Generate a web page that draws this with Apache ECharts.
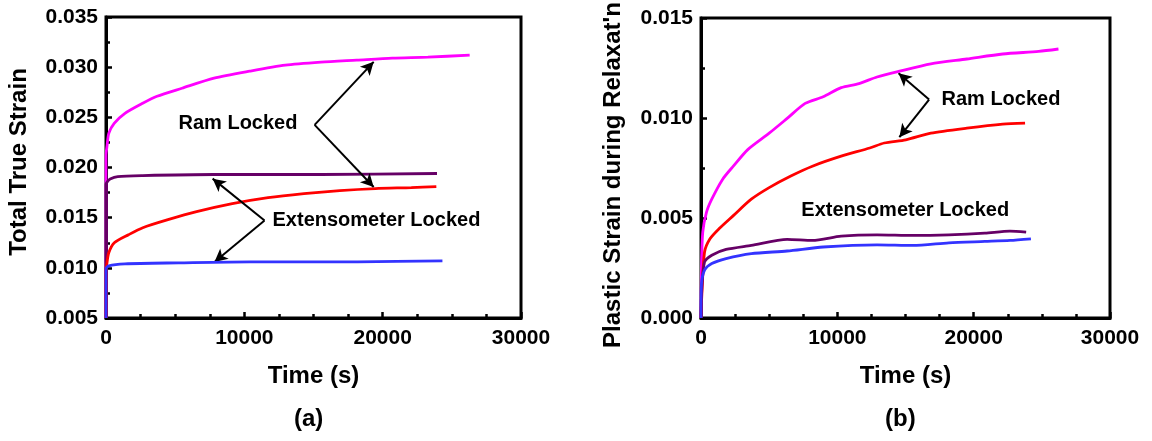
<!DOCTYPE html>
<html>
<head>
<meta charset="utf-8">
<script src="https://cdn.jsdelivr.net/npm/echarts@6/dist/echarts.min.js"></script>
<style>
html,body{margin:0;padding:0;background:#fff;}
#chart{width:1152px;height:441px;}
</style>
</head>
<body>
<div id="chart"></div>
<script>
// ---------- Panel (a): Total True Strain ----------
const magentaL_t = [0, 0, 80, 200, 590, 1370, 2650, 3690, 5490, 7810, 10390, 12960, 15540, 18120, 20700, 23270, 26290];
const magentaL_v = [0.005, 0.0212, 0.0222, 0.0234, 0.0244, 0.0254, 0.0264, 0.0271, 0.0279, 0.0289, 0.0296, 0.0302, 0.0305, 0.0307, 0.0309, 0.0310, 0.0312];
const purpleL_t = [0, 0, 100, 300, 850, 2660, 7810, 15540, 23930];
const purpleL_v = [0.005, 0.0183, 0.0186, 0.01886, 0.0191, 0.0192, 0.0193, 0.0193, 0.0194];
const redL_t = [0, 0, 60, 200, 600, 1630, 2660, 4480, 6550, 9130, 11720, 14310, 16900, 19480, 22070, 23880];
const redL_v = [0.005, 0.0097, 0.0104, 0.0115, 0.0125, 0.0133, 0.0140, 0.0148, 0.0156, 0.0164, 0.0170, 0.0174, 0.0177, 0.0179, 0.0180, 0.0181];
const blueL_t = [0, 0, 200, 1370, 5250, 10430, 18190, 24320];
const blueL_v = [0.005, 0.0099, 0.0102, 0.0104, 0.0105, 0.0106, 0.0106, 0.0107];

// ---------- Panel (b): Plastic Strain during Relaxation ----------
const magentaR_t = [0, 30, 130, 400, 790, 1580, 2370, 3430, 5000, 6320, 7640, 8960, 10280, 11590, 12910, 14490, 16860, 19500, 22130, 24770, 26220];
const magentaR_v = [0, 0.0025, 0.00429, 0.00528, 0.00594, 0.00693, 0.00759, 0.00842, 0.00924, 0.00998, 0.01073, 0.01106, 0.01152, 0.01172, 0.01205, 0.01233, 0.01271, 0.01295, 0.0132, 0.01333, 0.01345];
const redR_t = [0, 50, 260, 660, 1320, 2370, 3690, 5000, 6590, 8170, 10280, 12380, 13440, 15020, 16860, 19500, 22130, 23770];
const redR_v = [0, 0.001, 0.0033, 0.00396, 0.00446, 0.00512, 0.00594, 0.00652, 0.0071, 0.00759, 0.00809, 0.0085, 0.00875, 0.00891, 0.00924, 0.00949, 0.00969, 0.00974];
const purpleR_t = [0, 50, 260, 790, 1840, 3690, 6320, 8170, 10280, 12910, 15550, 18180, 20820, 22660, 23850];
const purpleR_v = [0, 0.00132, 0.0028, 0.00314, 0.00343, 0.00363, 0.00393, 0.00388, 0.00409, 0.00416, 0.00413, 0.00416, 0.00424, 0.00434, 0.00429];
const blueR_t = [0, 30, 260, 790, 1840, 3690, 6320, 8960, 12910, 15550, 18180, 20820, 22660, 24200];
const blueR_v = [0, 0.00165, 0.00239, 0.00272, 0.00297, 0.00322, 0.00335, 0.00355, 0.00366, 0.00363, 0.00376, 0.00383, 0.00388, 0.00396];

// ---------- Annotations ----------
const annotTextL = ['Ram Locked', 'Extensometer Locked'];
const annotPosL = [[9540, 0.0244], [19550, 0.01472]];
const arrowsL = [
  [[15080, 0.02425], [19350, 0.03053]],
  [[15080, 0.02425], [19350, 0.01806]],
  [[11460, 0.01472], [7710, 0.01889]],
  [[11460, 0.01472], [7840, 0.01059]]
];
const annotTextR = ['Ram Locked', 'Extensometer Locked'];
const annotPosR = [[22000, 0.01092], [14980, 0.0054]];
const arrowsR = [
  [[16730, 0.01092], [14490, 0.01224]],
  [[16730, 0.01092], [14550, 0.00904]]
];

// ---------- Axis settings ----------
const xTicks = [0, 30000, 10000];
const yTicksL = [0.005, 0.035, 0.005];
const yTicksR = [0, 0.015, 0.005];
const xTitle = 'Time (s)';
const yTitleL = 'Total True Strain';
const yTitleR = "Plastic Strain during Relaxat'n";
const panelLabels = ['(a)', '(b)'];

const FONT = '"Liberation Sans", Arial, sans-serif';
const zip = (t, v) => t.map((x, i) => [x, v[i]]);

function xAxisCfg(gi) {
  return {
    type: 'value', gridIndex: gi, min: xTicks[0], max: xTicks[1], interval: xTicks[2],
    name: xTitle, nameLocation: 'middle', nameGap: 46,
    nameTextStyle: { fontFamily: FONT, fontWeight: 'bold', fontSize: 24, color: '#000' },
    axisLine: { show: true, onZero: false, lineStyle: { color: '#000', width: 3 } },
    axisTick: { show: true, inside: true, length: 6, lineStyle: { color: '#000', width: 2.5 } },
    minorTick: { show: true, splitNumber: 4, length: 4, lineStyle: { color: '#000', width: 2.5 } },
    axisLabel: { fontFamily: FONT, fontWeight: 'bold', fontSize: 21, color: '#000', margin: 10,
      formatter: v => String(Math.round(v)) },
    splitLine: { show: false }
  };
}
function yAxisCfg(gi, ticks, title, gap, pad) {
  return {
    type: 'value', gridIndex: gi, min: ticks[0], max: ticks[1], interval: ticks[2],
    name: title, nameLocation: 'middle', nameGap: gap,
    nameTextStyle: { fontFamily: FONT, fontWeight: 'bold', fontSize: 24, color: '#000', padding: pad },
    axisLine: { show: true, onZero: false, lineStyle: { color: '#000', width: 3 } },
    axisTick: { show: true, inside: true, length: 6, lineStyle: { color: '#000', width: 2.5 } },
    minorTick: { show: true, splitNumber: 2, length: 4, lineStyle: { color: '#000', width: 2.5 } },
    axisLabel: { fontFamily: FONT, fontWeight: 'bold', fontSize: 21, color: '#000', margin: 8,
      formatter: v => v.toFixed(3) },
    splitLine: { show: false }
  };
}
function lineSeries(gi, t, v, color, z) {
  return {
    type: 'line', xAxisIndex: gi, yAxisIndex: gi, data: zip(t, v),
    showSymbol: false, symbol: 'none', smooth: 0.25, z: z,
    lineStyle: { color: color, width: 2.8 }, itemStyle: { color: color },
    silent: true, animation: false
  };
}
function annotSeries(gi, texts, pos, arrows) {
  return {
    type: 'scatter', xAxisIndex: gi, yAxisIndex: gi, z: 10,
    symbolSize: 0, itemStyle: { color: 'rgba(0,0,0,0)', opacity: 1 },
    data: texts.map((s, i) => ({ name: s, value: pos[i] })),
    label: { show: true, position: 'inside', formatter: p => p.name, opacity: 1,
      fontFamily: FONT, fontWeight: 'bold', fontSize: 20, color: '#000' },
    markLine: {
      silent: true, symbol: ['none', 'arrow'], symbolSize: [10, 13],
      label: { show: false },
      lineStyle: { color: '#000', width: 2, type: 'solid', opacity: 1 },
      data: arrows.map(a => [{ coord: a[0] }, { coord: a[1] }]),
      animation: false
    },
    animation: false, silent: true
  };
}

const chart = echarts.init(document.getElementById('chart'), null, { renderer: 'canvas' });
chart.setOption({
  backgroundColor: '#fff',
  animation: false,
  grid: [
    { left: 106, top: 17, width: 415, height: 301, show: true, borderColor: '#000', borderWidth: 3,
      backgroundColor: 'transparent', containLabel: false, outerBoundsMode: 'none' },
    { left: 701, top: 18, width: 409, height: 300, show: true, borderColor: '#000', borderWidth: 3,
      backgroundColor: 'transparent', containLabel: false, outerBoundsMode: 'none' }
  ],
  xAxis: [xAxisCfg(0), xAxisCfg(1)],
  yAxis: [yAxisCfg(0, yTicksL, yTitleL, 75, [0, 0, 0, 11]), yAxisCfg(1, yTicksR, yTitleR, 76, [0, 14, 0, 0])],
  graphic: [
    { type: 'text', left: 309 - 15, top: 407, style: { text: panelLabels[0], font: 'bold 24px ' + FONT, fill: '#000' } },
    { type: 'text', left: 900 - 15, top: 407, style: { text: panelLabels[1], font: 'bold 24px ' + FONT, fill: '#000' } }
  ],
  series: [
    lineSeries(0, magentaL_t, magentaL_v, '#ff00ff', 2),
    lineSeries(0, purpleL_t, purpleL_v, '#660066', 3),
    lineSeries(0, redL_t, redL_v, '#ff0000', 4),
    lineSeries(0, blueL_t, blueL_v, '#3333ff', 5),
    annotSeries(0, annotTextL, annotPosL, arrowsL),
    lineSeries(1, magentaR_t, magentaR_v, '#ff00ff', 2),
    lineSeries(1, redR_t, redR_v, '#ff0000', 3),
    lineSeries(1, purpleR_t, purpleR_v, '#660066', 4),
    lineSeries(1, blueR_t, blueR_v, '#3333ff', 5),
    annotSeries(1, annotTextR, annotPosR, arrowsR)
  ]
});
</script>
</body>
</html>
